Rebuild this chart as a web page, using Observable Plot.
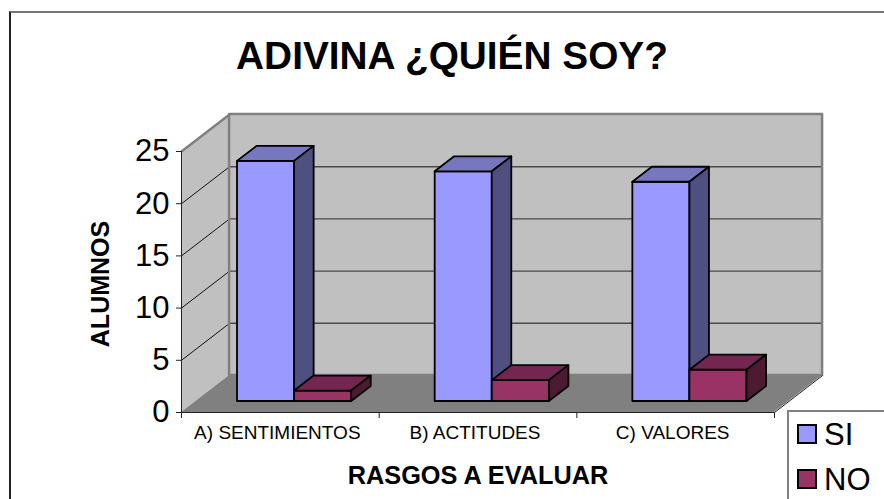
<!DOCTYPE html>
<html><head><meta charset="utf-8">
<script src="https://cdn.jsdelivr.net/npm/d3@7"></script>
<script src="https://cdn.jsdelivr.net/npm/@observablehq/plot@0.6"></script>
<style>
html,body{margin:0;padding:0;width:884px;height:499px;overflow:hidden;background:#fff;font-family:"Liberation Sans",Arial,sans-serif}
#stage{position:relative;width:884px;height:499px;overflow:hidden}
#stage svg{position:absolute;left:0;top:0;display:block;background:transparent}
#border{position:absolute;left:9px;top:11px;width:880px;height:500px;border-left:2px solid #222;border-top:2px solid #777}
#legend{position:absolute;left:787px;top:410px;width:110px;height:110px;border:2px solid #808080;background:#fff;color:#000}
.sw{position:absolute;left:8px;width:16px;height:16px;border:2px solid #000}
.lb{position:absolute;left:35px;font-size:31px;line-height:31px}
</style></head><body>
<div id="stage"><div id="border"></div></div>
<script>
const categories = ["A) SENTIMIENTOS", "B) ACTITUDES", "C) VALORES"];
const si = [23, 22, 21];
const no = [1, 2, 3];
const yTicks = [0, 5, 10, 15, 20, 25];
const titleText = "ADIVINA ¿QUIÉN SOY?";
const xTitle = "RASGOS A EVALUAR";
const yTitle = "ALUMNOS";
const colors = {
  si: {front: "#9999ff", top: "#7777bf", side: "#4f4f80"},
  no: {front: "#993366", top: "#732650", side: "#4d1a33"}
};

// Oblique projection: depth (0 front .. 1 back) shifts category and value units
const depthX = 0.2432, depthY = 3.544;
const P = (c, v, d = 0) => ({x: c + d * depthX, y: v + d * depthY});
const quad = (a, b, c, d, o) => Plot.area(
  [{x1: a.x, y1: a.y, x2: d.x, y2: d.y}, {x1: b.x, y1: b.y, x2: c.x, y2: c.y}],
  {x1: "x1", y1: "y1", x2: "x2", y2: "y2", ...o}
);
const barW = 0.2889, d0 = 0.297, d1 = 0.703;
function box(c0, c1, v, col) {
  const s = {stroke: "#000", strokeWidth: 1.8, strokeLinejoin: "round"};
  return [
    quad(P(c0, 0, d0), P(c1, 0, d0), P(c1, v, d0), P(c0, v, d0), {fill: col.front, ...s}),
    quad(P(c0, v, d0), P(c1, v, d0), P(c1, v, d1), P(c0, v, d1), {fill: col.top, ...s}),
    quad(P(c1, 0, d0), P(c1, 0, d1), P(c1, v, d1), P(c1, v, d0), {fill: col.side, ...s})
  ];
}
const bars = categories.flatMap((_, i) => {
  const m = i + 0.5;
  return [
    ...box(m - barW, m, si[i], colors.si),
    ...box(m, m + barW, no[i], colors.no)
  ];
});
const wallLine = {stroke: "#808080", strokeWidth: 2.5};
const textFont = {fontFamily: "Liberation Sans, Arial, sans-serif", fill: "#000"};

const plot = Plot.plot({
  width: 884, height: 499,
  marginLeft: 181, marginRight: 110, marginTop: 151, marginBottom: 87,
  x: {type: "linear", domain: [0, 3]},
  y: {type: "linear", domain: [0, 25]},
  style: {fontFamily: "Liberation Sans, Arial, sans-serif", background: "transparent", color: "#000"},
  marks: [
    // walls and floor
    quad(P(0, 0, 0), P(0, 0, 1), P(0, 25, 1), P(0, 25, 0), {fill: "#c0c0c0"}),
    quad(P(0, 0, 1), P(3, 0, 1), P(3, 25, 1), P(0, 25, 1), {fill: "#c0c0c0"}),
    // gridlines on the two walls
    Plot.link(yTicks.slice(1, -1), {
      x1: () => P(0, 0, 0).x, x2: () => P(0, 0, 1).x,
      y1: v => v, y2: v => P(0, v, 1).y, stroke: "#111", strokeWidth: 1
    }),
    Plot.link(yTicks.slice(1, -1), {
      x1: () => P(0, 0, 1).x, x2: () => P(3, 0, 1).x,
      y1: v => P(0, v, 1).y, y2: v => P(0, v, 1).y, stroke: "#4a4a4a", strokeWidth: 1.4
    }),
    quad(P(0, 0, 1), P(3, 0, 1), P(3, 25, 1), P(0, 25, 1), {fill: "none", ...wallLine}),
    Plot.link([25], {x1: () => P(0, 0, 0).x, x2: () => P(0, 0, 1).x, y1: v => v, y2: v => P(0, v, 1).y, ...wallLine}),
    quad(P(0, 0, 0), P(3, 0, 0), P(3, 0, 1), P(0, 0, 1), {fill: "#808080"}),
    Plot.link([0], {x1: () => P(3, 0, 0).x, x2: () => P(3, 0, 1).x, y1: v => v, y2: v => P(0, v, 1).y, stroke: "#222", strokeWidth: 1}),
    // bars
    ...bars,
    // axes
    Plot.ruleX([0], {y1: 0, y2: 25, stroke: "#222", strokeWidth: 1}),
    Plot.ruleY([0], {x1: 0, x2: 3, stroke: "#222", strokeWidth: 1.2}),
    Plot.axisY({ticks: yTicks, tickSize: 5, tickPadding: 7, fontSize: 31, label: null, stroke: "#222", color: "#000", tickFormat: d3.format("d")}),
    Plot.axisX({ticks: [0, 1, 2, 3], tickSize: 6, tickFormat: () => "", label: null, stroke: "#222"}),
    Plot.axisX({ticks: [0.5, 1.5, 2.5], tickSize: 0, tickPadding: 13, fontSize: 19, dx: -3, label: null, tickFormat: t => categories[Math.floor(t)], color: "#000"}),
    // titles
    Plot.text([titleText], {frameAnchor: "top", dx: -26, dy: -95, text: d => d, fontSize: 38.8, fontWeight: "bold", lineAnchor: "middle", ...textFont}),
    Plot.text([xTitle], {frameAnchor: "bottom", dx: 0, dy: 63, text: d => d, fontSize: 25.3, fontWeight: "bold", lineAnchor: "middle", ...textFont}),
    Plot.text([yTitle], {frameAnchor: "left", dx: -81, dy: 2, text: d => d, fontSize: 25, fontWeight: "bold", rotate: -90, textAnchor: "middle", lineAnchor: "middle", ...textFont})
  ]
});
const stage = document.getElementById("stage");
stage.appendChild(plot);

const legend = document.createElement("div");
legend.id = "legend";
[["SI", colors.si.front], ["NO", colors.no.front]].forEach(([name, c], i) => {
  const sw = document.createElement("div");
  sw.className = "sw"; sw.style.top = (12 + i * 45) + "px"; sw.style.background = c;
  const lb = document.createElement("div");
  lb.className = "lb"; lb.style.top = (7 + i * 45) + "px"; lb.textContent = name;
  legend.append(sw, lb);
});
stage.appendChild(legend);
</script>
</body></html>
